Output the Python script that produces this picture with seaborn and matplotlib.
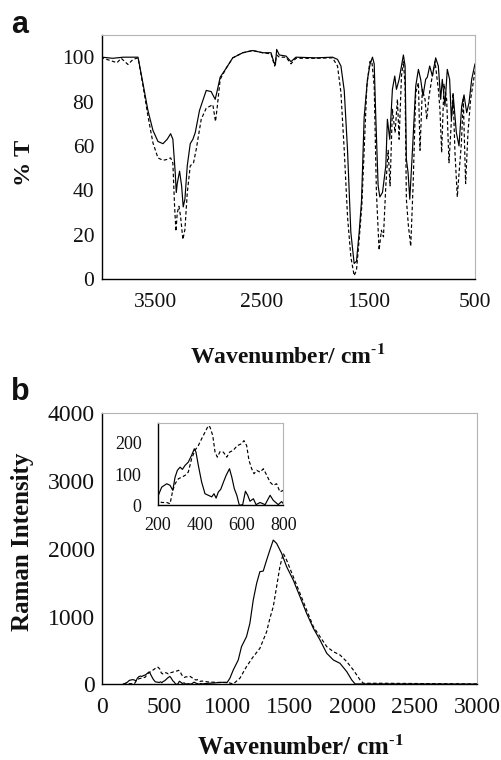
import matplotlib
matplotlib.use("Agg")
import matplotlib.pyplot as plt
import seaborn as sns

sns.set_style("white")
plt.rcParams['font.family'] = ['Liberation Serif', 'DejaVu Serif']
plt.rcParams['mathtext.fontset'] = 'stix'

# ---- panel a : IR transmittance ----
ir_wn_solid = [3999, 3900, 3800, 3662, 3615, 3569, 3522, 3475, 3428, 3388, 3356, 3335, 3313, 3303,
               3294, 3272, 3253, 3238, 3222, 3200, 3172, 3147, 3125, 3085, 3022, 2976, 2938, 2923,
               2891, 2835, 2773, 2679, 2586, 2492, 2414, 2389, 2373, 2361, 2336, 2273, 2227, 2180,
               1993, 1837, 1790, 1758, 1727, 1696, 1665, 1634, 1612, 1587, 1565, 1540, 1509, 1484,
               1462, 1446, 1431, 1409, 1393, 1368, 1337, 1322, 1300, 1275, 1253, 1237, 1212, 1190,
               1172, 1156, 1144, 1128, 1112, 1088, 1056, 1031, 1010, 988, 963, 947, 925, 900, 869,
               844, 822, 807, 782, 760, 738, 722, 703, 675, 650, 625, 603, 578, 556, 531, 500]
ir_t_solid = [100, 99.5, 100, 100, 88, 76, 67, 62, 61, 63, 65.5, 63, 48, 39,
              43, 48.6, 42, 32.5, 36, 51, 61, 63, 66, 76, 85, 84.5, 81, 84,
              91, 95, 99.7, 102, 103, 102, 102, 98, 96.5, 103.5, 101, 100.5, 98, 100,
              99.7, 100, 99, 96, 85, 58, 21, 7, 8, 21, 35, 73, 90, 97,
              100, 97, 73, 42, 37, 39, 51, 72, 63, 85.5, 91.5, 85.5, 90, 96,
              101, 96, 54, 48, 36, 57, 87, 94.5, 90, 82.5, 90, 91, 96, 91.5, 99.7,
              96, 81, 90, 78, 94.5, 90, 72, 82, 66, 60, 78, 83, 75, 79.5, 90, 97]

ir_wn_dash = [3999, 3859, 3820, 3756, 3709, 3662, 3615, 3569, 3522, 3475, 3428, 3381, 3356, 3335,
              3319, 3306, 3294, 3278, 3263, 3241, 3222, 3200, 3172, 3141, 3116, 3069, 3022, 2960,
              2935, 2920, 2891, 2835, 2773, 2679, 2586, 2492, 2414, 2380, 2361, 2336, 2273, 2227,
              2180, 1993, 1837, 1790, 1758, 1727, 1696, 1665, 1634, 1612, 1587, 1562, 1540, 1515,
              1487, 1468, 1446, 1425, 1400, 1378, 1359, 1337, 1315, 1297, 1275, 1250, 1228, 1212,
              1190, 1172, 1156, 1144, 1125, 1103, 1081, 1056, 1031, 1016, 994, 969, 953, 931, 906,
              875, 844, 829, 813, 791, 766, 744, 728, 706, 688, 666, 650, 628, 610, 588, 566, 541, 500]
ir_t_dash = [99.7, 97.5, 99.5, 96.7, 99, 99.7, 87, 73.5, 61.4, 54.6, 53.5, 54, 54.6, 52.3,
             32.8, 21.5, 29.8, 32.8, 28.3, 17.8, 22.3, 38.8, 51, 52.4, 58.4, 72, 77, 78.6,
             71, 77, 90, 95, 99.7, 102, 103, 102, 101.5, 96, 101, 100, 100, 97,
             99.5, 99.5, 99.7, 96, 84, 58, 28, 10, 1.5, 4, 17.8, 33, 58, 87,
             98, 98.3, 87, 39, 13, 22, 19, 42, 58, 42, 76.5, 66, 81, 63,
             91.5, 98, 87, 36, 24, 14.8, 42, 84, 88.5, 58, 85.5, 81, 72, 82.5, 90,
             98, 85.5, 76.5, 57, 88, 81, 52.4, 66, 84, 57, 37, 47.5, 61, 81, 43, 66, 81, 93.7]

# ---- panel b : Raman ----
ram_wn_solid = [168, 200, 219, 243, 259, 272, 283, 294, 307, 318, 331, 346, 362, 375, 383, 394,
                410, 426, 442, 458, 469, 479, 490, 501, 514, 527, 543, 554, 566, 578, 590, 606,
                619, 630, 641, 657, 670, 689, 713, 737, 752, 776, 792, 800, 850, 900, 950, 1000,
                1023, 1050, 1090, 1116, 1156, 1183, 1210, 1237, 1263, 1290, 1317, 1343, 1370,
                1397, 1437, 1477, 1530, 1584, 1637, 1691, 1744, 1798, 1851, 1904, 1958, 1998,
                2025, 2118, 2500, 3000]
ram_i_solid = [0, 27, 58, 69, 64, 48, 90, 112, 122, 115, 128, 138, 160, 181, 170, 128,
               74, 37, 32, 27, 37, 23, 43, 51, 74, 96, 117, 90, 53, 32, 0, 2,
               45, 32, 13, 21, 2, 9, 2, 32, 16, 2, 12, 5, 15, 20, 30, 25,
               89, 211, 359, 556, 704, 900, 1245, 1491, 1663, 1673, 1835, 1983, 2130,
               2081, 1934, 1737, 1540, 1294, 1048, 827, 654, 458, 359, 310, 187, 64,
               5, 5, 5, 3]

ram_wn_dash = [168, 185, 200, 219, 243, 259, 272, 283, 299, 315, 331, 346, 362, 378, 394, 410,
               426, 442, 450, 463, 474, 485, 498, 514, 530, 543, 561, 580, 601, 612, 625, 636,
               649, 660, 673, 689, 705, 721, 737, 752, 768, 784, 800, 850, 900, 950, 1000, 1050,
               1103, 1156, 1210, 1263, 1317, 1343, 1370, 1397, 1423, 1450, 1477, 1530, 1584,
               1637, 1691, 1744, 1798, 1851, 1904, 1958, 2011, 2065, 2091, 2252, 2600, 3000]
ram_i_dash = [0, 10, 16, 9, 9, 5, 48, 69, 85, 90, 96, 106, 149, 176, 191, 213,
              234, 255, 250, 223, 170, 154, 172, 170, 154, 170, 176, 191, 197, 207, 191, 144,
              117, 101, 112, 106, 117, 96, 74, 64, 69, 43, 48, 35, 30, 25, 30, 5,
              89, 261, 408, 531, 777, 974, 1146, 1442, 1737, 1934, 1835, 1589, 1343,
              1097, 851, 704, 556, 482, 433, 335, 211, 64, 15, 15, 10, 5]

dash_style = (0, (3, 2))
xlab = r'Wavenumber/ cm$^{\mathbf{\text{-}1}}$'


def style_axes(ax, size, xpad, ypad):
    for s in ['left', 'bottom']:
        ax.spines[s].set_color('black')
        ax.spines[s].set_linewidth(1.0)
    for s in ['top', 'right']:
        ax.spines[s].set_color('#b4b4b4')
        ax.spines[s].set_linewidth(0.8)
    ax.tick_params(direction='in', length=4.5, width=0.8, color='#a0a0a0',
                   labelsize=size, top=False, right=False, labelcolor='#111111')
    ax.tick_params(axis='x', pad=xpad)
    ax.tick_params(axis='y', pad=ypad)
    ax.set_xlabel('')
    ax.set_ylabel('')


def draw(ax, xs, ys, xd, yd):
    sns.lineplot(x=xs, y=ys, ax=ax, color='black', lw=0.85, estimator=None)
    sns.lineplot(x=xd, y=yd, ax=ax, color='black', lw=0.85, estimator=None, linestyle=dash_style)


fig = plt.figure(figsize=(5.01, 7.60), dpi=100)

# panel a
ax1 = fig.add_axes([102 / 501, 1 - 279 / 760, 373 / 501, 244 / 760])
draw(ax1, ir_wn_solid, ir_t_solid, ir_wn_dash, ir_t_dash)
ax1.set_xlim(4000, 500)
ax1.set_ylim(0, 110)
ax1.set_xticks([3500, 2500, 1500, 500])
ax1.set_yticks([0, 20, 40, 60, 80, 100])
style_axes(ax1, 15.5, 10, 5.5)

# panel b
ax2 = fig.add_axes([102 / 501, 1 - 684.3 / 760, 375 / 501, 270.8 / 760])
draw(ax2, ram_wn_solid, ram_i_solid, ram_wn_dash, ram_i_dash)
ax2.set_xlim(0, 3000)
ax2.set_ylim(0, 4000)
ax2.set_xticks(range(0, 3001, 500))
ax2.set_yticks(range(0, 4001, 1000))
style_axes(ax2, 17, 9, 5)

# inset
ax3 = fig.add_axes([157.7 / 501, 1 - 505.3 / 760, 125.6 / 501, 82.8 / 760])
draw(ax3, ram_wn_solid, ram_i_solid, ram_wn_dash, ram_i_dash)
ax3.set_xlim(200, 800)
ax3.set_ylim(0, 265)
ax3.set_xticks([200, 400, 600, 800])
ax3.set_yticks([0, 100, 200])
style_axes(ax3, 13, 8.5, 11.5)

# texts
lab_kw = dict(weight='bold', color='#111111')
fig.text(11 / 501, 1 - 33 / 760, 'a', family='Liberation Sans', size=22, va='baseline', **lab_kw)
fig.text(11 / 501, 1 - 400 / 760, 'b', family='Liberation Sans', size=22, va='baseline', **lab_kw)
fig.text(287.5 / 501, 1 - 363 / 760, xlab, size=17, ha='center', va='baseline', **lab_kw)
fig.text(300 / 501, 1 - 755 / 760, xlab, size=18, ha='center', va='baseline', **lab_kw)
fig.text(24 / 501, 1 - 163 / 760, '% T', size=17.5, rotation=90, ha='center', va='center', **lab_kw)
fig.text(23 / 501, 1 - 541.5 / 760, 'Raman Intensity', size=18, rotation=90,
         ha='center', va='center', **lab_kw)

fig.savefig('out.png', dpi=100)
